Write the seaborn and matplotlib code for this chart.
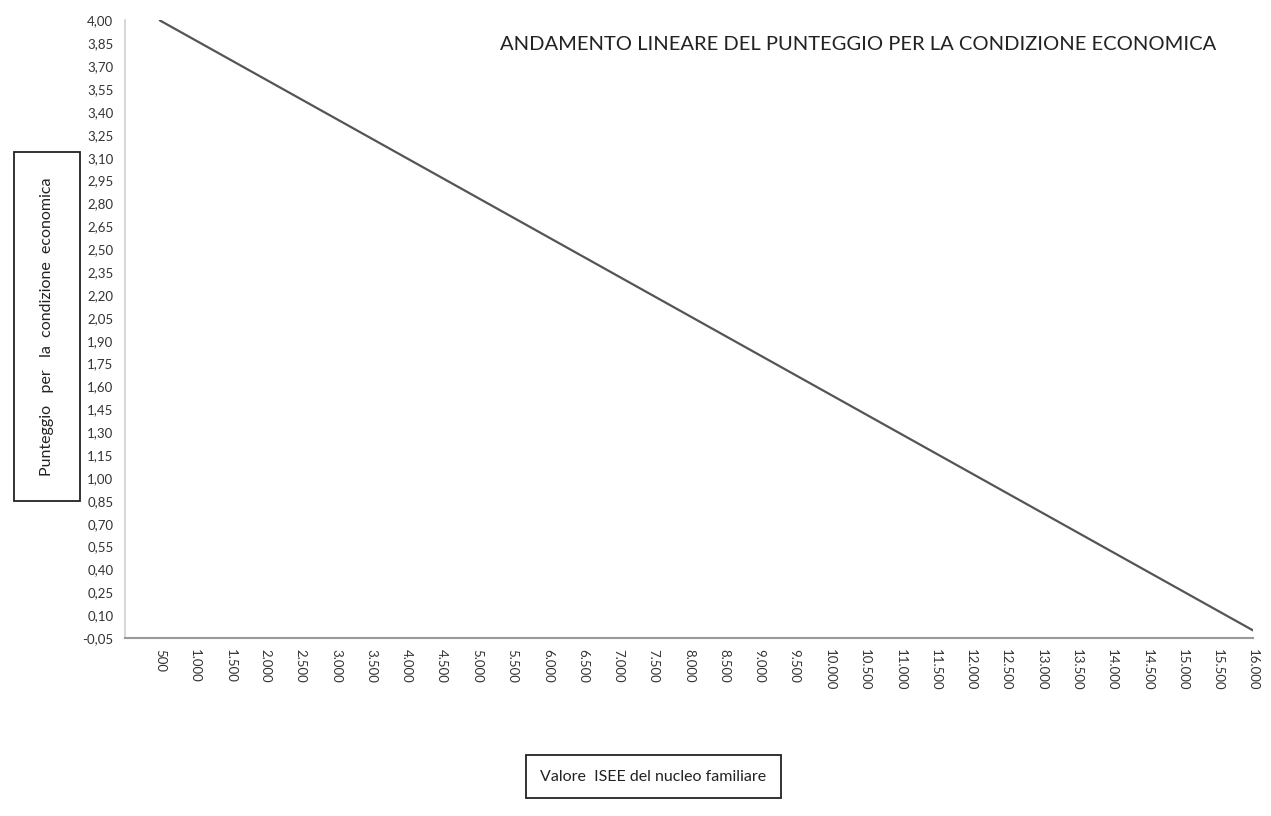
import matplotlib
matplotlib.use("Agg")
import matplotlib.pyplot as plt
import seaborn as sns
import numpy as np
import pandas as pd

# Data
isee_values = [500, 16000]
punteggio = [4.00, 0.00]
x_ticks = list(range(500, 16001, 500))
y_ticks = [round(-0.05 + 0.15 * i, 2) for i in range(28)]

title = "ANDAMENTO LINEARE DEL PUNTEGGIO PER LA CONDIZIONE ECONOMICA"
x_label = "Valore  ISEE del nucleo familiare"
y_label = "Punteggio   per   la  condizione  economica"

sns.set_theme(style="white")
plt.rcParams['font.family'] = ['Lato', 'DejaVu Sans']

df = pd.DataFrame({"isee": isee_values, "punteggio": punteggio})

fig = plt.figure(figsize=(12.71, 8.16), dpi=100)
ax = fig.add_axes([0.098, 0.218, 0.888, 0.757])

sns.lineplot(data=df, x="isee", y="punteggio", ax=ax, color="#555555", linewidth=1.6)

ax.set_xlim(0, 16000)
ax.set_ylim(-0.05, 4.00)
ax.set_xticks(x_ticks)
ax.set_xticklabels([f"{v:,}".replace(",", ".") for v in x_ticks], rotation=-90,
                   fontsize=9.5, color="#333333")
ax.set_yticks(y_ticks)
ax.set_yticklabels([f"{v:.2f}".replace(".", ",") for v in y_ticks],
                   fontsize=9.5, color="#333333")
ax.tick_params(axis="both", length=0, pad=8)

for s in ["top", "right"]:
    ax.spines[s].set_visible(False)
ax.spines["left"].set_color("#d0d0d0")
ax.spines["bottom"].set_color("#999999")
ax.spines["left"].set_linewidth(1.2)
ax.spines["bottom"].set_linewidth(1.5)

ax.set_xlabel("")
ax.set_ylabel("")

fig.text(0.675, 0.945, title, ha="center", va="center", fontsize=14.5, color="#222222")

fig.text(0.037, 0.6, y_label, rotation=90, ha="center", va="center", fontsize=11.5,
         color="#222222",
         bbox=dict(boxstyle="square,pad=1.6", facecolor="white", edgecolor="#222222", linewidth=1.3))

fig.text(0.514, 0.048, x_label, ha="center", va="center", fontsize=11.5, color="#222222",
         bbox=dict(boxstyle="square,pad=0.9", facecolor="white", edgecolor="#222222", linewidth=1.3))

fig.savefig("out.png", dpi=100)
